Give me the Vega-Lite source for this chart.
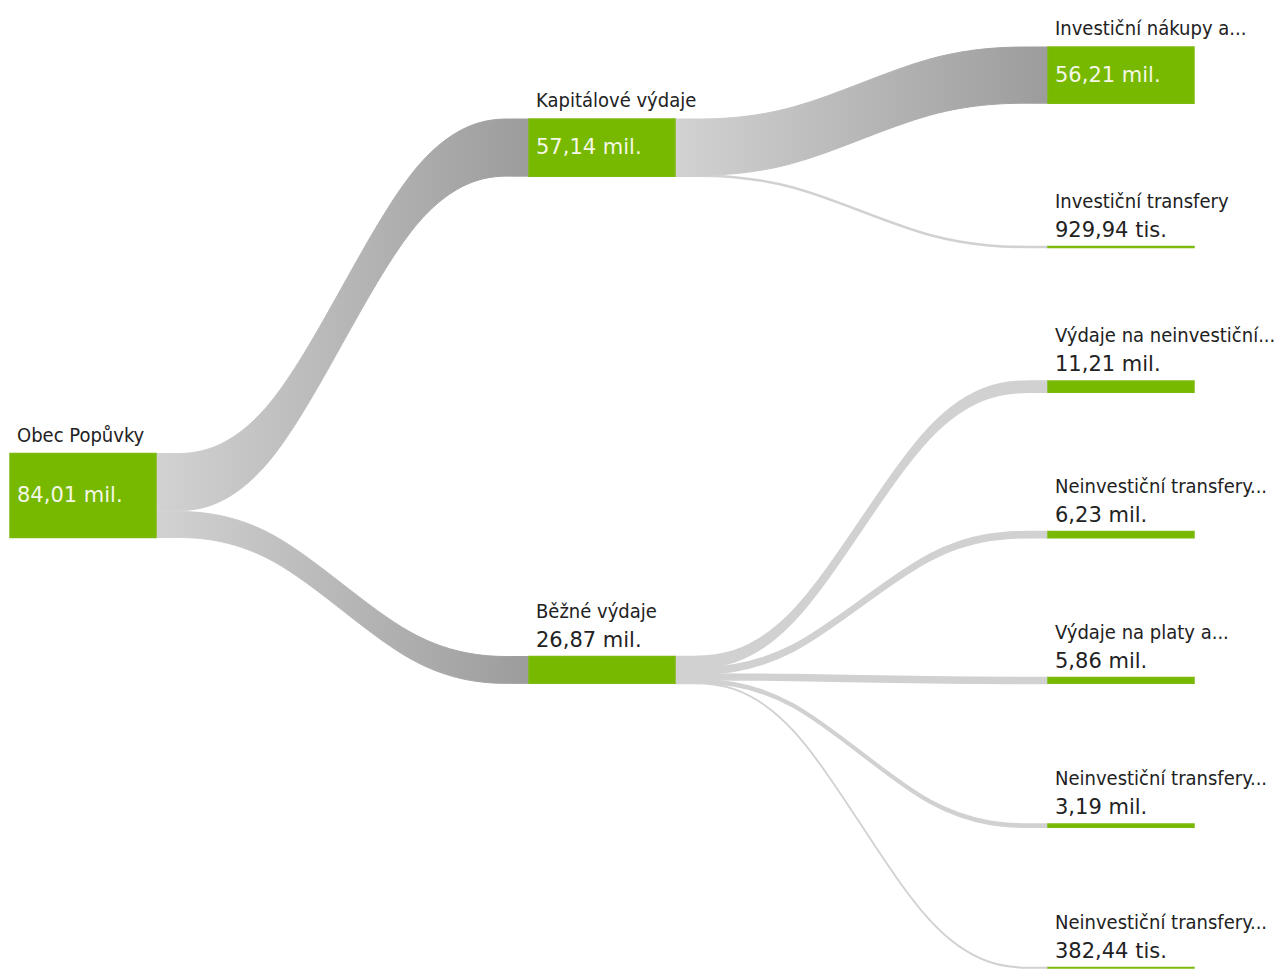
{
  "$schema": "https://vega.github.io/schema/vega-lite/v6.json",
  "width": 1184,
  "height": 969,
  "autosize": {"type": "none"},
  "padding": {"left": 10, "right": 93, "top": 0, "bottom": 0},
  "background": "white",
  "config": {"view": {"stroke": null}},
  "datasets": {
    "links": [
      {"link": "L1", "g": "big", "x": 0.2813, "yt": 453.5, "yb": 510.64},
      {"link": "L1", "g": "big", "x": 0.4969, "yt": 453.5, "yb": 510.64},
      {"link": "L1", "g": "big", "x": 0.7844, "yt": 119, "yb": 176.14},
      {"link": "L1", "g": "big", "x": 1.0, "yt": 119, "yb": 176.14},
      {"link": "L2", "g": "big", "x": 0.2813, "yt": 511.6, "yb": 537.51},
      {"link": "L2", "g": "big", "x": 0.4969, "yt": 511.6, "yb": 537.51},
      {"link": "L2", "g": "big", "x": 0.7844, "yt": 656.5, "yb": 683.37},
      {"link": "L2", "g": "big", "x": 1.0, "yt": 656.5, "yb": 683.37},
      {"link": "L3", "g": "big", "x": 1.2813, "yt": 119, "yb": 175.21},
      {"link": "L3", "g": "big", "x": 1.4969, "yt": 119, "yb": 175.21},
      {"link": "L3", "g": "big", "x": 1.7844, "yt": 47, "yb": 103.21},
      {"link": "L3", "g": "big", "x": 2.0, "yt": 47, "yb": 103.21},
      {"link": "L4", "g": "small", "x": 1.2813, "yt": 175.21, "yb": 176.14},
      {"link": "L4", "g": "small", "x": 1.4969, "yt": 175.21, "yb": 176.14},
      {"link": "L4", "g": "small", "x": 1.7844, "yt": 246.5, "yb": 247.43},
      {"link": "L4", "g": "small", "x": 2.0, "yt": 246.5, "yb": 247.43},
      {"link": "L5", "g": "small", "x": 1.2813, "yt": 656.5, "yb": 667.71},
      {"link": "L5", "g": "small", "x": 1.4969, "yt": 656.5, "yb": 667.71},
      {"link": "L5", "g": "small", "x": 1.7844, "yt": 381, "yb": 392.21},
      {"link": "L5", "g": "small", "x": 2.0, "yt": 381, "yb": 392.21},
      {"link": "L6", "g": "small", "x": 1.2813, "yt": 667.71, "yb": 673.94},
      {"link": "L6", "g": "small", "x": 1.4969, "yt": 667.71, "yb": 673.94},
      {"link": "L6", "g": "small", "x": 1.7844, "yt": 531.5, "yb": 537.73},
      {"link": "L6", "g": "small", "x": 2.0, "yt": 531.5, "yb": 537.73},
      {"link": "L7", "g": "small", "x": 1.2813, "yt": 673.94, "yb": 679.8},
      {"link": "L7", "g": "small", "x": 1.4969, "yt": 673.94, "yb": 679.8},
      {"link": "L7", "g": "small", "x": 1.7844, "yt": 677.5, "yb": 683.36},
      {"link": "L7", "g": "small", "x": 2.0, "yt": 677.5, "yb": 683.36},
      {"link": "L8", "g": "small", "x": 1.2813, "yt": 679.8, "yb": 682.99},
      {"link": "L8", "g": "small", "x": 1.4969, "yt": 679.8, "yb": 682.99},
      {"link": "L8", "g": "small", "x": 1.7844, "yt": 824, "yb": 827.19},
      {"link": "L8", "g": "small", "x": 2.0, "yt": 824, "yb": 827.19},
      {"link": "L9", "g": "small", "x": 1.2813, "yt": 682.99, "yb": 683.37},
      {"link": "L9", "g": "small", "x": 1.4969, "yt": 682.99, "yb": 683.37},
      {"link": "L9", "g": "small", "x": 1.7844, "yt": 967.5, "yb": 967.88},
      {"link": "L9", "g": "small", "x": 2.0, "yt": 967.5, "yb": 967.88}
    ],
    "nodes": [
      {"name": "Obec Popůvky", "val": "84,01 mil.", "x0": 0, "x1": 0.2813, "y0": 453.5, "y1": 537.51, "ym": 496, "big": true},
      {"name": "Kapitálové výdaje", "val": "57,14 mil.", "x0": 1, "x1": 1.2813, "y0": 119, "y1": 176.14, "ym": 148, "big": true},
      {"name": "Běžné výdaje", "val": "26,87 mil.", "x0": 1, "x1": 1.2813, "y0": 656.5, "y1": 683.37, "ym": 670, "big": false},
      {"name": "Investiční nákupy a...", "val": "56,21 mil.", "x0": 2, "x1": 2.2813, "y0": 47, "y1": 103.21, "ym": 76, "big": true},
      {"name": "Investiční transfery", "val": "929,94 tis.", "x0": 2, "x1": 2.2813, "y0": 246.5, "y1": 247.43, "ym": 247, "big": false},
      {"name": "Výdaje na neinvestiční...", "val": "11,21 mil.", "x0": 2, "x1": 2.2813, "y0": 381, "y1": 392.21, "ym": 386.6, "big": false},
      {"name": "Neinvestiční transfery...", "val": "6,23 mil.", "x0": 2, "x1": 2.2813, "y0": 531.5, "y1": 537.73, "ym": 534.6, "big": false},
      {"name": "Výdaje na platy a...", "val": "5,86 mil.", "x0": 2, "x1": 2.2813, "y0": 677.5, "y1": 683.36, "ym": 680.4, "big": false},
      {"name": "Neinvestiční transfery...", "val": "3,19 mil.", "x0": 2, "x1": 2.2813, "y0": 824, "y1": 827.19, "ym": 825.6, "big": false},
      {"name": "Neinvestiční transfery...", "val": "382,44 tis.", "x0": 2, "x1": 2.2813, "y0": 967.5, "y1": 967.88, "ym": 967.7, "big": false}
    ]
  },
  "layer": [
    {
      "data": {"name": "links"},
      "transform": [{"filter": "datum.g === 'small'"}],
      "mark": {"type": "area", "interpolate": "basis", "fill": "#d1d1d1", "stroke": "#d1d1d1", "strokeWidth": 1.6},
      "encoding": {
        "x": {"field": "x", "type": "quantitative", "scale": {"domain": [0, 2.2813]}, "axis": null},
        "y": {"field": "yt", "type": "quantitative", "scale": {"domain": [0, 969], "reverse": true}, "axis": null},
        "y2": {"field": "yb"},
        "detail": {"field": "link"}
      }
    },
    {
      "data": {"name": "links"},
      "transform": [{"filter": "datum.g === 'big'"}],
      "mark": {
        "type": "area", "interpolate": "basis", "strokeWidth": 1,
        "fill": {"gradient": "linear", "x1": 0, "y1": 0, "x2": 1, "y2": 0, "stops": [{"offset": 0, "color": "#d2d2d2"}, {"offset": 1, "color": "#9c9c9c"}]},
        "stroke": {"gradient": "linear", "x1": 0, "y1": 0, "x2": 1, "y2": 0, "stops": [{"offset": 0, "color": "#d2d2d2"}, {"offset": 1, "color": "#9c9c9c"}]}
      },
      "encoding": {
        "x": {"field": "x", "type": "quantitative", "scale": {"domain": [0, 2.2813]}, "axis": null},
        "y": {"field": "yt", "type": "quantitative", "scale": {"domain": [0, 969], "reverse": true}, "axis": null},
        "y2": {"field": "yb"},
        "detail": {"field": "link"}
      }
    },
    {
      "data": {"name": "nodes"},
      "mark": {"type": "rect", "fill": "#76b900", "stroke": "#7cba0e", "strokeWidth": 1.5},
      "encoding": {
        "x": {"field": "x0", "type": "quantitative", "scale": {"domain": [0, 2.2813]}, "axis": null},
        "x2": {"field": "x1"},
        "y": {"field": "y0", "type": "quantitative", "scale": {"domain": [0, 969], "reverse": true}, "axis": null},
        "y2": {"field": "y1"}
      }
    },
    {
      "data": {"name": "nodes"},
      "transform": [{"filter": "datum.big"}],
      "mark": {"type": "text", "align": "left", "baseline": "alphabetic", "dx": 7, "dy": -12, "font": "DejaVu Sans Condensed, Liberation Sans Narrow, Liberation Sans", "fontSize": 20, "fill": "#222222"},
      "encoding": {
        "x": {"field": "x0", "type": "quantitative", "scale": {"domain": [0, 2.2813]}, "axis": null},
        "y": {"field": "y0", "type": "quantitative", "scale": {"domain": [0, 969], "reverse": true}, "axis": null},
        "text": {"field": "name"}
      }
    },
    {
      "data": {"name": "nodes"},
      "transform": [{"filter": "datum.big"}],
      "mark": {"type": "text", "align": "left", "baseline": "middle", "dx": 7, "font": "DejaVu Sans", "fontSize": 21, "fill": "#f4f7e6"},
      "encoding": {
        "x": {"field": "x0", "type": "quantitative", "scale": {"domain": [0, 2.2813]}, "axis": null},
        "y": {"field": "ym", "type": "quantitative", "scale": {"domain": [0, 969], "reverse": true}, "axis": null},
        "text": {"field": "val"}
      }
    },
    {
      "data": {"name": "nodes"},
      "transform": [{"filter": "!datum.big"}],
      "mark": {"type": "text", "align": "left", "baseline": "alphabetic", "dx": 7, "dy": -39, "font": "DejaVu Sans Condensed, Liberation Sans Narrow, Liberation Sans", "fontSize": 20, "fill": "#222222"},
      "encoding": {
        "x": {"field": "x0", "type": "quantitative", "scale": {"domain": [0, 2.2813]}, "axis": null},
        "y": {"field": "y0", "type": "quantitative", "scale": {"domain": [0, 969], "reverse": true}, "axis": null},
        "text": {"field": "name"}
      }
    },
    {
      "data": {"name": "nodes"},
      "transform": [{"filter": "!datum.big"}],
      "mark": {"type": "text", "align": "left", "baseline": "alphabetic", "dx": 7, "dy": -10, "font": "DejaVu Sans", "fontSize": 21, "fill": "#222222"},
      "encoding": {
        "x": {"field": "x0", "type": "quantitative", "scale": {"domain": [0, 2.2813]}, "axis": null},
        "y": {"field": "y0", "type": "quantitative", "scale": {"domain": [0, 969], "reverse": true}, "axis": null},
        "text": {"field": "val"}
      }
    }
  ]
}
